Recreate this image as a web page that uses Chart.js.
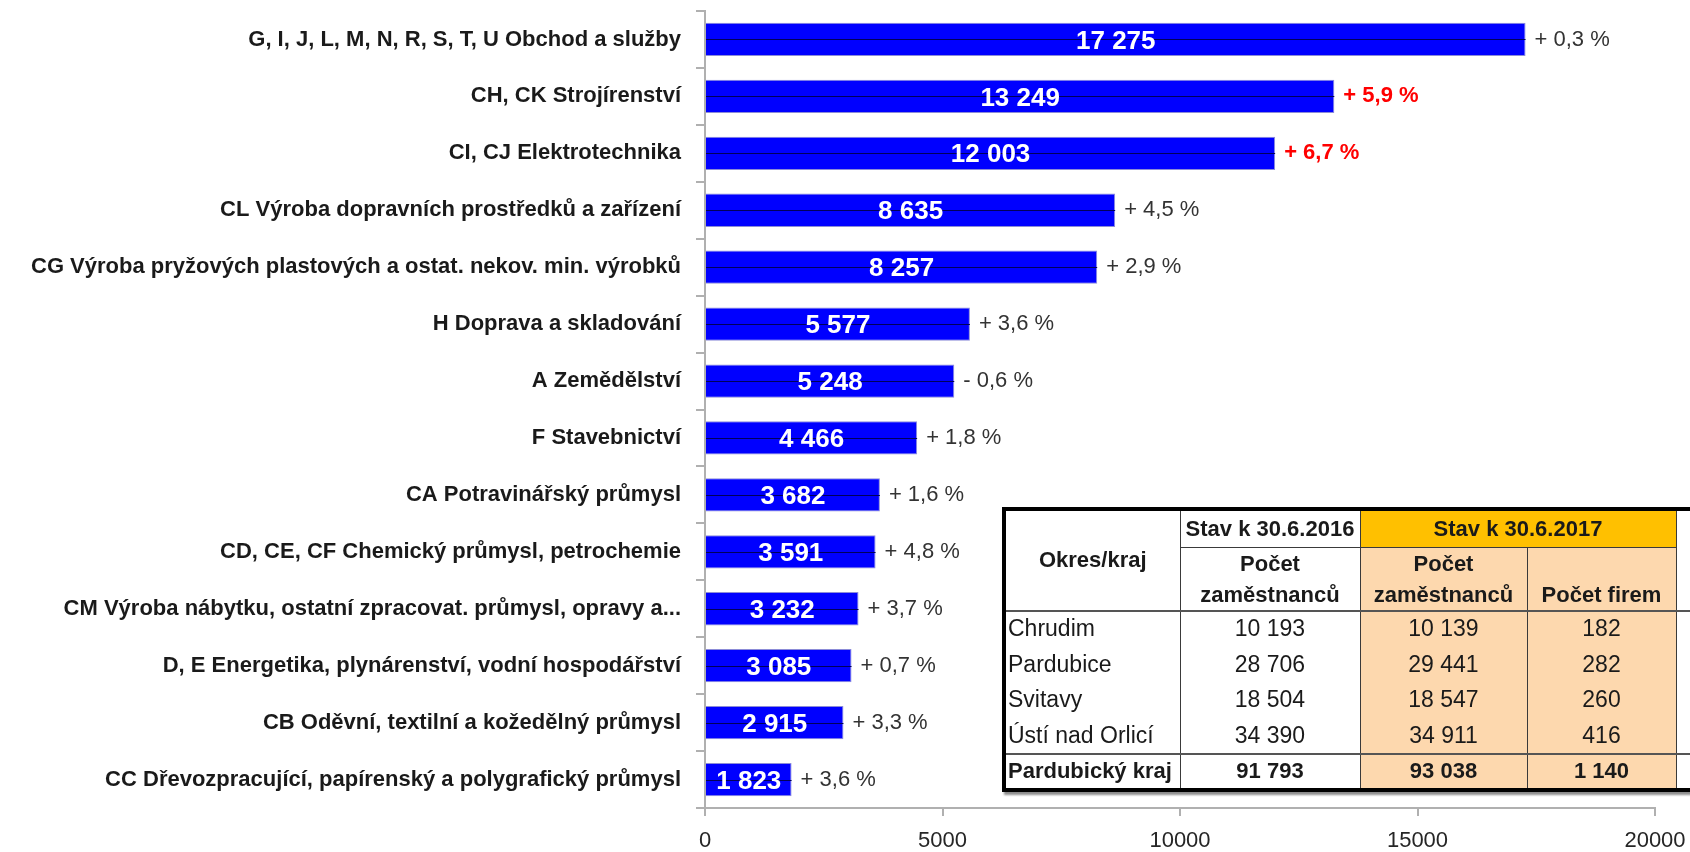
<!DOCTYPE html>
<html>
<head>
<meta charset="utf-8">
<script src="https://cdn.jsdelivr.net/npm/chart.js@4.4.1/dist/chart.umd.min.js"></script>
<style>
  html, body { margin: 0; padding: 0; background: #fff; }
  body { width: 1690px; height: 852px; overflow: hidden; position: relative; }
  #c { position: absolute; left: 0; top: 0; }
  #tbl {
    position: absolute; left: 1002px; top: 507px; width: 742px;
    border-collapse: collapse; table-layout: fixed;
    border: 4px solid #000;
    box-shadow: 2px 3px 2px rgba(0, 0, 0, 0.45);
    font-family: "Liberation Sans", Arial, sans-serif;
    font-size: 23px; color: #1a1a1a; background: #fff;
  }
  #tbl td, #tbl th { padding: 0 4px; white-space: nowrap; overflow: hidden; }
  #tbl th { font-weight: bold; font-size: 22px; text-align: center; }
  #tbl .v { border-left: 1.5px solid #3a3a3a; }
  #tbl .hb { border-bottom: 1.5px solid #3a3a3a; }
  #tbl .hb2 { border-bottom: 2px solid #555; }
  #tbl .gold { background: #ffc000; }
  #tbl .peach { background: #fdd8ae; }
  #tbl .num { text-align: center; }
  #tbl .lab { text-align: left; padding-left: 2px; }
  #tbl .tot td { font-weight: bold; font-size: 22px; }
  #tbl .two { line-height: 31px; vertical-align: bottom; }
</style>
</head>
<body>
<canvas id="c" width="1690" height="852"></canvas>
<table id="tbl"></table>
<script>
const categories = [
  "G, I, J, L, M, N, R, S, T, U Obchod a služby",
  "CH, CK Strojírenství",
  "CI, CJ Elektrotechnika",
  "CL Výroba dopravních prostředků a zařízení",
  "CG Výroba pryžových plastových a ostat. nekov. min. výrobků",
  "H Doprava a skladování",
  "A Zemědělství",
  "F Stavebnictví",
  "CA Potravinářský průmysl",
  "CD, CE, CF Chemický průmysl, petrochemie",
  "CM Výroba nábytku, ostatní zpracovat. průmysl, opravy a...",
  "D, E Energetika, plynárenství, vodní hospodářství",
  "CB Oděvní, textilní a kožedělný průmysl",
  "CC Dřevozpracující, papírenský a polygrafický průmysl"
];
const employees = [17275, 13249, 12003, 8635, 8257, 5577, 5248, 4466, 3682, 3591, 3232, 3085, 2915, 1823];
const changePct = [0.3, 5.9, 6.7, 4.5, 2.9, 3.6, -0.6, 1.8, 1.6, 4.8, 3.7, 0.7, 3.3, 3.6];
const highlightIdx = [1, 2];
const xTicks = [0, 5000, 10000, 15000, 20000];

// tabulka vpravo dole
const districts = ["Chrudim", "Pardubice", "Svitavy", "Ústí nad Orlicí"];
const emp2016 = [10193, 28706, 18504, 34390];
const emp2017 = [10139, 29441, 18547, 34911];
const firms2017 = [182, 282, 260, 416];
const totalRow = ["Pardubický kraj", 91793, 93038, 1140];

const FONT = '"Liberation Sans", Arial, sans-serif';
const fmt = v => String(v).replace(/\B(?=(\d{3})+(?!\d))/g, " ");
const fmtPct = p => (p < 0 ? "- " : "+ ") + Math.abs(p).toFixed(1).replace(".", ",") + " %";

// popisky hodnot v pruhu a procentni zmena za pruhem
const barLabels = {
  id: "barLabels",
  afterDatasetsDraw(chart) {
    const ctx = chart.ctx;
    const meta = chart.getDatasetMeta(0);
    ctx.save();
    meta.data.forEach((bar, i) => {
      const yy = Math.round(bar.y) + 0.5;
      ctx.strokeStyle = "#00005a";
      ctx.lineWidth = 1;
      ctx.beginPath();
      ctx.moveTo(bar.base, yy);
      ctx.lineTo(bar.x, yy);
      ctx.stroke();

      ctx.fillStyle = "#ffffff";
      ctx.font = "bold 26px " + FONT;
      ctx.textAlign = "center";
      ctx.textBaseline = "middle";
      ctx.fillText(fmt(employees[i]), (bar.base + bar.x) / 2, bar.y + 2);

      const hi = highlightIdx.includes(i);
      ctx.fillStyle = hi ? "#ff0000" : "#333333";
      ctx.font = (hi ? "bold " : "") + "22px " + FONT;
      ctx.textAlign = "left";
      ctx.fillText(fmtPct(changePct[i]), bar.x + 9, bar.y);
    });
    ctx.restore();
  }
};

new Chart(document.getElementById("c"), {
  type: "bar",
  data: {
    labels: categories,
    datasets: [{
      data: employees,
      backgroundColor: "#0000ff",
      borderColor: "#8c8cd8",
      borderWidth: 1,
      barPercentage: 0.585,
      categoryPercentage: 1
    }]
  },
  options: {
    indexAxis: "y",
    responsive: false,
    animation: false,
    devicePixelRatio: 1,
    layout: { padding: { top: 11, right: 35, left: 0, bottom: 0 } },
    plugins: { legend: { display: false }, tooltip: { enabled: false } },
    scales: {
      y: {
        grid: { offset: true, drawOnChartArea: false, tickLength: 9, color: "#b0b0b0", lineWidth: 2 },
        border: { color: "#b0b0b0", width: 2 },
        ticks: { autoSkip: false, padding: 15, color: "#1a1a1a", font: { family: FONT, size: 22, weight: "bold" } },
        afterFit: s => { s.width = 705; s.paddingTop = 0; s.paddingBottom = 0; }
      },
      x: {
        min: 0,
        max: 20000,
        afterBuildTicks: s => { s.ticks = xTicks.map(v => ({ value: v })); },
        grid: { drawOnChartArea: false, tickLength: 8, color: "#b0b0b0", lineWidth: 2 },
        border: { color: "#b0b0b0", width: 2 },
        ticks: { padding: 12, color: "#262626", font: { family: FONT, size: 22 }, callback: v => String(v) },
        afterFit: s => { s.height = 44; s.paddingLeft = 0; s.paddingRight = 0; }
      }
    }
  },
  plugins: [barLabels]
});

// sestaveni tabulky
const tbl = document.getElementById("tbl");
let html = '<colgroup><col style="width:176px"><col style="width:180px"><col style="width:167px"><col style="width:149px"><col style="width:70px"></colgroup>';
html += '<tr style="height:38px"><th rowspan="2" class="hb2">Okres/kraj</th>' +
  '<th class="v hb">Stav k 30.6.2016</th>' +
  '<th colspan="2" class="v hb gold">Stav k 30.6.2017</th>' +
  '<td rowspan="2" class="v hb2"></td></tr>';
html += '<tr style="height:63px"><th class="v hb2 two">Počet<br>zaměstnanců</th>' +
  '<th class="v hb2 two peach">Počet<br>zaměstnanců</th>' +
  '<th class="v hb2 two peach">Počet firem</th></tr>';
districts.forEach((d, i) => {
  const last = i === districts.length - 1 ? " hb2" : "";
  html += '<tr style="height:35.75px"><td class="lab' + last + '">' + d + '</td>' +
    '<td class="v num' + last + '">' + fmt(emp2016[i]) + '</td>' +
    '<td class="v num peach' + last + '">' + fmt(emp2017[i]) + '</td>' +
    '<td class="v num peach' + last + '">' + fmt(firms2017[i]) + '</td>' +
    '<td class="v' + last + '"></td></tr>';
});
html += '<tr class="tot" style="height:36px"><td class="lab">' + totalRow[0] + '</td>' +
  '<td class="v num">' + fmt(totalRow[1]) + '</td>' +
  '<td class="v num peach">' + fmt(totalRow[2]) + '</td>' +
  '<td class="v num peach">' + fmt(totalRow[3]) + '</td>' +
  '<td class="v"></td></tr>';
tbl.innerHTML = html;
</script>
</body>
</html>
